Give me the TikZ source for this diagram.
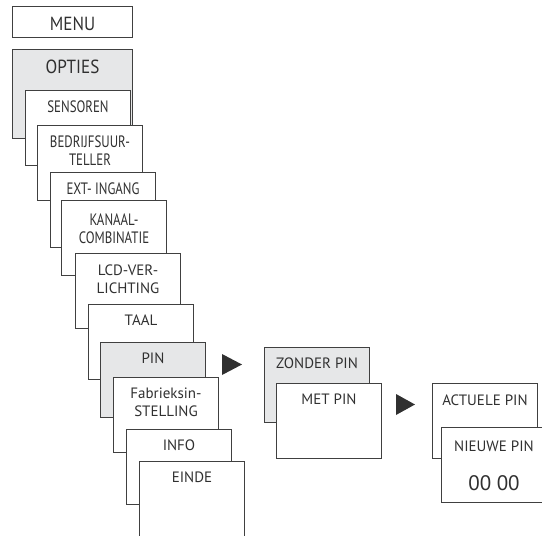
\documentclass[tikz,border=0pt]{standalone}
\usepackage{fontspec}
\setmainfont{PT Sans}
\newfontfamily\narrowsans{PT Sans}[FakeStretch=0.78]
\newfontfamily\menusans{PT Sans}[FakeStretch=0.9]
\definecolor{boxline}{HTML}{404040}
\definecolor{boxgray}{HTML}{E6E7E8}
\definecolor{boxtext}{HTML}{303030}
\tikzset{
  menubox/.style={draw=boxline, line width=1pt, fill=white, anchor=north west,
    inner sep=0pt, minimum width=105pt, minimum height=74.5pt},
  active/.style={fill=boxgray},
  boxtitle/.style={anchor=north, yshift=-10.5pt, inner sep=0pt, align=center, text=boxtext,
    font=\fontsize{15}{18}\selectfont},
  narrow/.style={font=\narrowsans\fontsize{16.5}{18.3}\selectfont},
  big/.style={font=\menusans\fontsize{19}{20}\selectfont},
}
\begin{document}
\begin{tikzpicture}[x=1pt, y=-1pt]
\clip (0,0) rectangle (542,536);
% main menu
\node [menubox, minimum width=120pt, minimum height=31pt, label={[boxtitle, big]north:MENU}] (menu) at (12,6) {};
\node [menubox, active, minimum width=120pt, minimum height=89pt, label={[boxtitle, big]north:OPTIES}] (opties) at (12,49) {};
% options, stacked
\node [menubox, label={[boxtitle, narrow]north:SENSOREN}] (sensoren) at (25,90) {};
\node [menubox, label={[boxtitle, narrow]north:BEDRIJFSUUR-\\TELLER}] (teller) at (37,125) {};
\node [menubox, label={[boxtitle, narrow]north:EXT- INGANG}] (ingang) at (50,172) {};
\node [menubox, label={[boxtitle, narrow, yshift=-3pt]north:KANAAL-\\COMBINATIE}] (kanaal) at (61,200) {};
\node [menubox, label={[boxtitle, yshift=-1.2pt]north:LCD-VER-\\LICHTING}] (lcd) at (75,253) {};
\node [menubox, label={[boxtitle]north:TAAL}] (taal) at (88,304) {};
\node [menubox, active, label={[boxtitle]north:PIN}] (pin) at (100,342) {};
\node [menubox, label={[boxtitle]north:Fabrieksin-\\STELLING}] (fabriek) at (113,377) {};
\node [menubox, label={[boxtitle]north:INFO}] (info) at (126,429) {};
\node [menubox, label={[boxtitle]north:EINDE}] (einde) at (139,461) {};
% pin submenu
\node [menubox, active, label={[boxtitle]north:ZONDER PIN}] (zonder) at (264,347) {};
\node [menubox, label={[boxtitle]north:MET PIN}] (metpin) at (276,383) {};
\node [menubox, label={[boxtitle, yshift=-1.5pt]north:ACTUELE PIN}] (actueel) at (432,383) {};
\node [menubox, label={[boxtitle, yshift=-3pt]north:NIEUWE PIN}] (nieuw) at (441,427) {};
\node [anchor=north, inner sep=0pt, text=boxtext, font=\fontsize{21}{22}\selectfont] (code) at ([yshift=-48.5pt]nieuw.north) {00 00};
% arrows
\fill [boxtext] (222,354) -- (242,364.5) -- (222,375) -- cycle;
\fill [boxtext] (396,394) -- (415,404.5) -- (396,415) -- cycle;
\end{tikzpicture}
\end{document}
